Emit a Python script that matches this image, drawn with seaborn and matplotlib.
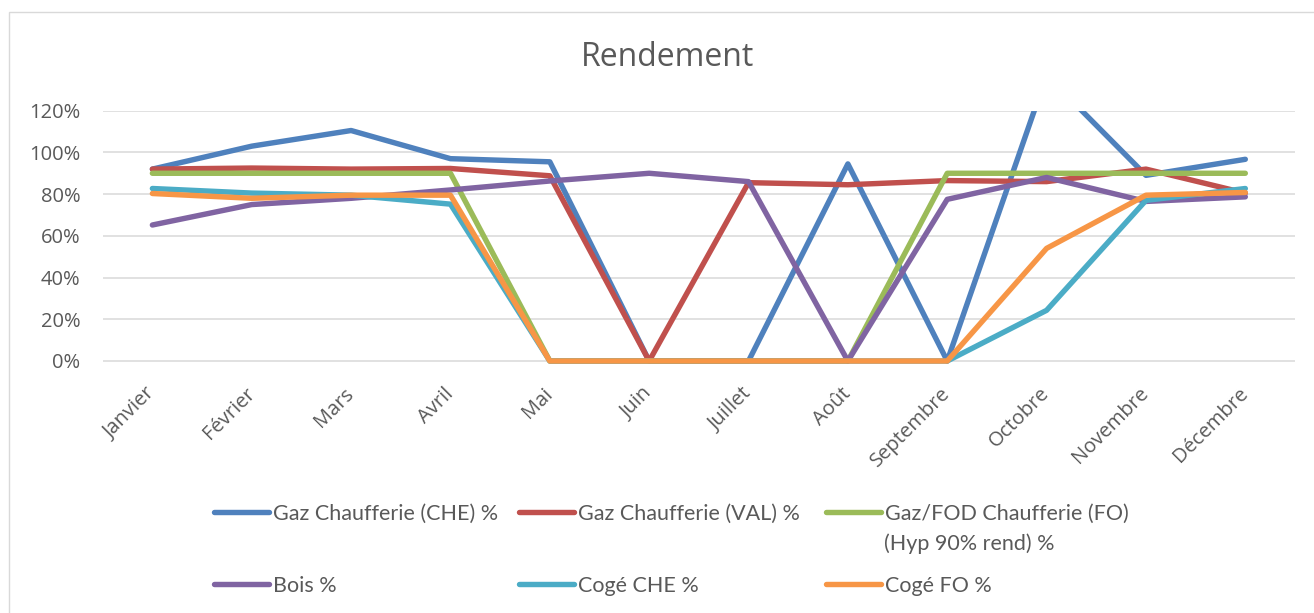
import numpy as np
import pandas as pd
import matplotlib
matplotlib.use("Agg")
import matplotlib.pyplot as plt
from matplotlib.ticker import PercentFormatter
from matplotlib.patches import Rectangle
import seaborn as sns

# ---------------- data ----------------
months = ["Janvier", "Février", "Mars", "Avril", "Mai", "Juin", "Juillet",
          "Août", "Septembre", "Octobre", "Novembre", "Décembre"]

gaz_che = [92, 103, 110.5, 97, 95.5, 0, 0, 94.5, 0, 137, 89, 96.7]
gaz_val = [92, 92.5, 92, 92.3, 88.8, 0, 85.5, 84.5, 86.5, 86, 92, 80.5]
gaz_fo = [90, 90, 90, 90, 0, 0, 0, 0, 90, 90, 90, 90]
bois = [65.2, 75, 78, 82, 86.3, 90, 86, 0, 77.5, 88, 76.5, 78.7]
coge_che = [82.7, 80.5, 79.5, 75.2, 0, 0, 0, 0, 0, 24.3, 77, 82.7]
coge_fo = [80.3, 78, 79.5, 79.5, 0, 0, 0, 0, 0, 54, 79.5, 80.8]

series_names = ["Gaz Chaufferie (CHE) %", "Gaz Chaufferie (VAL) %",
                "Gaz/FOD Chaufferie (FO)\n(Hyp 90% rend) %", "Bois %",
                "Cogé CHE %", "Cogé FO %"]
series_values = [gaz_che, gaz_val, gaz_fo, bois, coge_che, coge_fo]
colors = ["#4F81BD", "#C0504D", "#9BBB59", "#8064A2", "#4BACC6", "#F79646"]

yticks = [0, 20, 40, 60, 80, 100, 120]

df = pd.DataFrame({
    "mois": months * len(series_names),
    "serie": np.repeat(series_names, len(months)),
    "valeur": np.concatenate(series_values),
})

# ---------------- style ----------------
sns.set_theme(style="white")
plt.rcParams["font.family"] = ["Open Sans", "DejaVu Sans"]
TXT = "#595959"
GRID = "#D9D9D9"

W, H = 1314, 613
fig = plt.figure(figsize=(W / 100, H / 100), dpi=100)
fig.patch.set_facecolor("white")

# chart-area border (left + top visible)
fig.patches.append(Rectangle((9 / W, -0.2), 1.3, 1.2 - 12 / H,
                             transform=fig.transFigure, fill=False,
                             edgecolor=GRID, lw=1.0))

y_top_px, y_zero_px = 110.7, 361.0
px_per_pct = (y_zero_px - y_top_px) / 120.0
ymin = -3.0
y_bot_px = y_zero_px - ymin * px_per_pct
x_left_px, x_right_px = 102.7, 1295.0
ax = fig.add_axes([x_left_px / W, 1 - y_bot_px / H,
                   (x_right_px - x_left_px) / W, (y_bot_px - y_top_px) / H])

sns.lineplot(data=df, x="mois", y="valeur", hue="serie", hue_order=series_names,
             palette=dict(zip(series_names, colors)), estimator=None, sort=False,
             linewidth=3.9, legend=False, ax=ax,
             solid_capstyle="round", solid_joinstyle="round")

ax.set_xlim(-0.5, len(months) - 0.5)
ax.set_ylim(ymin, 120)
ax.set_yticks(yticks)
ax.yaxis.set_major_formatter(PercentFormatter(100, decimals=0))
ax.yaxis.grid(True, color=GRID, lw=1.1)
ax.xaxis.grid(False)
ax.set_axisbelow(True)
for s in ax.spines.values():
    s.set_visible(False)
ax.set_xlabel("")
ax.set_ylabel("")
ax.tick_params(axis="y", length=0, pad=16, labelsize=14.5, labelcolor=TXT)
ax.tick_params(axis="x", length=0, pad=17, labelsize=14.5, labelcolor=TXT)
ax.set_xticks(range(len(months)))
ax.set_xticklabels(months, rotation=45, ha="right", va="center",
                   rotation_mode="anchor")

# ---------------- title ----------------
fig.text(667 / W, 1 - 57 / H, "Rendement", ha="center", va="center",
         fontsize=23, color=TXT)

# ---------------- legend ----------------
lines = ax.get_lines()
LFS = 15.5
leg_font = {"family": ["Lato", "DejaVu Sans"], "size": LFS}
fs_px = LFS * 100 / 72
pos = [(214, 514), (519, 514), (826, 514), (214, 586), (519, 586), (826, 586)]
for line, name, (px, py) in zip(lines, series_names, pos):
    first = name.split("\n")[0]
    fig.legend([line], [first], loc="center left",
               bbox_to_anchor=(px / W, 1 - py / H), frameon=False,
               prop=leg_font, labelcolor=TXT, borderpad=0, borderaxespad=0,
               handlelength=55 / fs_px, handletextpad=4 / fs_px)
    if "\n" in name:
        fig.text(884 / W, 1 - 544 / H, name.split("\n")[1], ha="left",
                 va="center", color=TXT, fontfamily=["Lato", "DejaVu Sans"],
                 fontsize=LFS)

fig.savefig("out.png", dpi=100, facecolor="white")
